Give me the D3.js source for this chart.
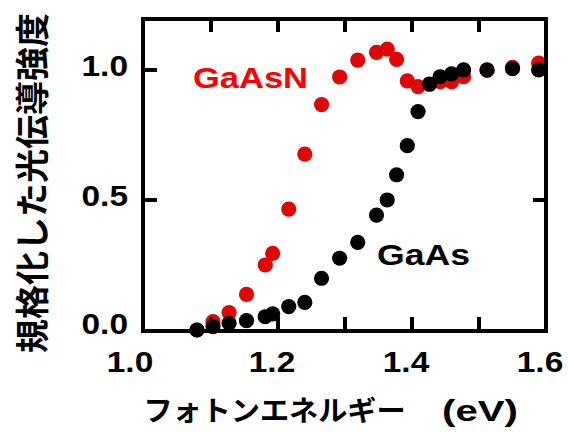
<!DOCTYPE html>
<html>
<head>
<meta charset="utf-8">
<script src="https://cdn.jsdelivr.net/npm/d3@7"></script>
<style>
  html, body { margin: 0; padding: 0; background: #fff; }
  svg { display: block; }
  .lat { font-family: "Liberation Sans", Arial, sans-serif; font-weight: bold; }
  .jp { font-family: "Noto Sans CJK JP", sans-serif; font-weight: bold; }
</style>
</head>
<body>
<div id="chart"></div>
<script>
// photon energy (eV), shared by both samples
const energy = [1.079, 1.103, 1.127, 1.153, 1.181, 1.192, 1.216, 1.240, 1.265, 1.292, 1.319, 1.347,
                1.363, 1.377, 1.393, 1.409, 1.426, 1.442, 1.459, 1.477, 1.512, 1.550, 1.589];
const gaasN = [0.0, 0.032, 0.067, 0.137, 0.25, 0.295, 0.465, 0.676, 0.867, 0.973, 1.038, 1.068,
               1.08, 1.041, 0.958, 0.936, 0.945, 0.955, 0.955, 0.974, 0.998, 1.01, 1.026];
const gaas = [0.0, 0.013, 0.026, 0.036, 0.051, 0.062, 0.09, 0.106, 0.199, 0.276, 0.337, 0.442,
              0.5, 0.597, 0.709, 0.84, 0.946, 0.974, 0.985, 1.0, 1.0, 1.005, 1.0];

const xTickLabels = [1.0, 1.2, 1.4, 1.6];
const yTickLabels = [0.0, 0.5, 1.0];
const xMinorTicks = [1.1, 1.2, 1.3, 1.4, 1.5];
const yMinorTicks = [0.5, 1.0];

const W = 568, H = 432;
const svg = d3.select("#chart").append("svg")
    .attr("width", W).attr("height", H);

const x = d3.scaleLinear().domain([1.0, 1.6]).range([144, 546]);
const y = d3.scaleLinear().domain([0, 1.196]).range([330, 19]);

const red = "#e00606";
const tickLen = 13;

// points: GaAsN first, GaAs on top
svg.append("g").selectAll("circle")
    .data(energy.map((e, i) => [e, gaasN[i]]))
    .join("circle")
    .attr("cx", d => x(d[0])).attr("cy", d => y(d[1]))
    .attr("r", 7.6).attr("fill", red);

svg.append("g").selectAll("circle")
    .data(energy.map((e, i) => [e, gaas[i]]))
    .join("circle")
    .attr("cx", d => x(d[0])).attr("cy", d => y(d[1]))
    .attr("r", 7.6).attr("fill", "#000");

// frame
svg.append("rect")
    .attr("x", x(1.0) - 1).attr("y", y.range()[1])
    .attr("width", x(1.6) - x(1.0) + 1)
    .attr("height", y.range()[0] - y.range()[1] + 1)
    .attr("fill", "none").attr("stroke", "#000").attr("stroke-width", 4);

// inward ticks on all sides
const ticks = svg.append("g").attr("stroke", "#000").attr("stroke-width", 4);
xMinorTicks.forEach(v => {
  ticks.append("line").attr("x1", x(v)).attr("x2", x(v))
      .attr("y1", y.range()[1]).attr("y2", y.range()[1] + tickLen);
  ticks.append("line").attr("x1", x(v)).attr("x2", x(v))
      .attr("y1", y(0)).attr("y2", y(0) - tickLen);
});
yMinorTicks.forEach(v => {
  ticks.append("line").attr("x1", x(1.0)).attr("x2", x(1.0) + tickLen)
      .attr("y1", y(v)).attr("y2", y(v));
  ticks.append("line").attr("x1", x(1.6)).attr("x2", x(1.6) - tickLen)
      .attr("y1", y(v)).attr("y2", y(v));
});

// tick labels
svg.append("g").selectAll("text")
    .data(xTickLabels)
    .join("text")
    .attr("class", "lat")
    .attr("x", (d, i) => x(d) - (i === 0 ? 14 : 6))
    .attr("y", 371.5)
    .attr("text-anchor", "middle")
    .attr("font-size", 30)
    .attr("textLength", 46.5).attr("lengthAdjust", "spacingAndGlyphs")
    .text(d => d.toFixed(1));

svg.append("g").selectAll("text")
    .data(yTickLabels)
    .join("text")
    .attr("class", "lat")
    .attr("x", 128)
    .attr("y", d => y(d) + (d === 0 ? 3.5 : 6.5))
    .attr("text-anchor", "end")
    .attr("font-size", 30)
    .attr("textLength", 46.5).attr("lengthAdjust", "spacingAndGlyphs")
    .text(d => d.toFixed(1));

// series labels
svg.append("text").attr("class", "lat")
    .attr("x", 193).attr("y", 88.3)
    .attr("font-size", 30).attr("fill", "#f00")
    .attr("textLength", 115).attr("lengthAdjust", "spacingAndGlyphs")
    .text("GaAsN");

svg.append("text").attr("class", "lat")
    .attr("x", 377).attr("y", 265)
    .attr("font-size", 30).attr("fill", "#000")
    .attr("textLength", 93).attr("lengthAdjust", "spacingAndGlyphs")
    .text("GaAs");

// axis titles
svg.append("text").attr("class", "jp")
    .attr("x", 143.5).attr("y", 421)
    .attr("font-size", 28)
    .attr("textLength", 262).attr("lengthAdjust", "spacingAndGlyphs")
    .text("フォトンエネルギー");

svg.append("text").attr("class", "lat")
    .attr("x", 442).attr("y", 421)
    .attr("font-size", 30)
    .attr("textLength", 76).attr("lengthAdjust", "spacingAndGlyphs")
    .text("(eV)");

svg.append("text").attr("class", "jp")
    .attr("transform", "translate(30,183) rotate(-90)")
    .attr("text-anchor", "middle")
    .attr("dominant-baseline", "central")
    .attr("font-size", 34)
    .attr("textLength", 340).attr("lengthAdjust", "spacingAndGlyphs")
    .text("規格化した光伝導強度");
</script>
</body>
</html>
